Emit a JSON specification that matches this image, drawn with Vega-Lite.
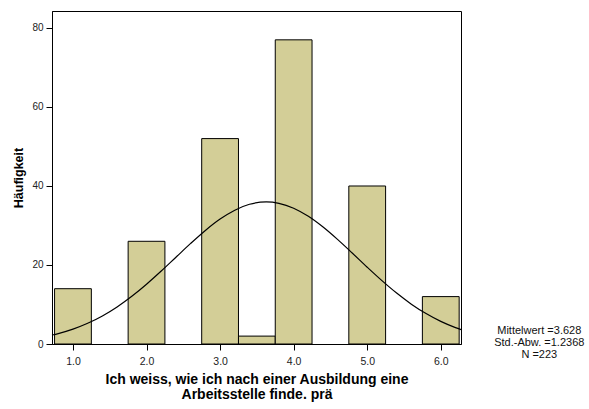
{
  "$schema": "https://vega.github.io/schema/vega-lite/v6.json",
  "autosize": "none",
  "width": 409,
  "height": 333,
  "padding": {"left": 52, "top": 11, "right": 128, "bottom": 65},
  "background": "white",
  "config": {
    "font": "Liberation Sans",
    "view": {"stroke": "#000000", "strokeWidth": 1},
    "axis": {
      "labelFont": "Liberation Sans",
      "titleFont": "Liberation Sans",
      "labelColor": "#222222",
      "titleColor": "#000000",
      "domainColor": "#000000",
      "tickColor": "#000000",
      "grid": false,
      "tickSize": 6,
      "labelFontSize": 10,
      "labelFlush": false,
      "labelOverlap": false,
      "titleFontWeight": "bold"
    }
  },
  "datasets": {
    "bins": [
      {"start": 0.75, "end": 1.25, "count": 14},
      {"start": 1.75, "end": 2.25, "count": 26},
      {"start": 2.75, "end": 3.25, "count": 52},
      {"start": 3.25, "end": 3.75, "count": 2},
      {"start": 3.75, "end": 4.25, "count": 77},
      {"start": 4.75, "end": 5.25, "count": 40},
      {"start": 5.75, "end": 6.25, "count": 12}
    ],
    "curve": [
      {"x": 0.715, "y": 2.27}, {"x": 0.8, "y": 2.64}, {"x": 1.0, "y": 3.76}, {"x": 1.2, "y": 5.24},
      {"x": 1.4, "y": 7.10}, {"x": 1.6, "y": 9.38}, {"x": 1.8, "y": 12.07}, {"x": 2.0, "y": 15.13},
      {"x": 2.2, "y": 18.47}, {"x": 2.4, "y": 21.97}, {"x": 2.6, "y": 25.46}, {"x": 2.8, "y": 28.75},
      {"x": 3.0, "y": 31.62}, {"x": 3.2, "y": 33.88}, {"x": 3.4, "y": 35.37}, {"x": 3.628, "y": 35.97},
      {"x": 3.8, "y": 35.62}, {"x": 4.0, "y": 34.38}, {"x": 4.2, "y": 32.32}, {"x": 4.4, "y": 29.60},
      {"x": 4.6, "y": 26.41}, {"x": 4.8, "y": 22.96}, {"x": 5.0, "y": 19.44}, {"x": 5.2, "y": 16.04},
      {"x": 5.4, "y": 12.89}, {"x": 5.6, "y": 10.09}, {"x": 5.8, "y": 7.70}, {"x": 6.0, "y": 5.72},
      {"x": 6.2, "y": 4.14}, {"x": 6.275, "y": 3.64}
    ],
    "stats": [
      {"label": "Mittelwert =3.628", "tx": 7.339, "ty": 2.41},
      {"label": "Std.-Abw. =1.2368", "tx": 7.339, "ty": -0.63},
      {"label": "N =223", "tx": 7.339, "ty": -3.67}
    ]
  },
  "layer": [
    {
      "data": {"name": "bins"},
      "mark": {"type": "bar", "fill": "#D3CE97", "stroke": "#000000", "strokeWidth": 1},
      "encoding": {
        "x": {
          "field": "start", "type": "quantitative",
          "scale": {"domain": [0.715, 6.275], "nice": false, "zero": false},
          "axis": {
            "values": [1, 2, 3, 4, 5, 6], "format": ".1f",
            "title": ["Ich weiss, wie ich nach einer Ausbildung eine", "Arbeitsstelle finde. prä"],
            "titleFontSize": 14, "titlePadding": 6, "titleLineHeight": 15,
            "labelPadding": 6, "labelFontSize": 10.5
          }
        },
        "x2": {"field": "end"},
        "y": {
          "field": "count", "type": "quantitative",
          "scale": {"domain": [0, 84.3], "nice": false},
          "axis": {
            "values": [0, 20, 40, 60, 80],
            "title": "Häufigkeit", "titleFontSize": 12.5, "titlePadding": 6,
            "labelPadding": 3
          }
        },
        "y2": {"datum": 0}
      }
    },
    {
      "data": {"name": "curve"},
      "mark": {"type": "line", "color": "#000000", "strokeWidth": 1.2, "interpolate": "monotone"},
      "encoding": {
        "x": {"field": "x", "type": "quantitative"},
        "y": {"field": "y", "type": "quantitative"}
      }
    },
    {
      "data": {"name": "stats"},
      "mark": {"type": "text", "fontSize": 11, "color": "#111111", "align": "center", "baseline": "alphabetic", "clip": false},
      "encoding": {
        "x": {"field": "tx", "type": "quantitative"},
        "y": {"field": "ty", "type": "quantitative"},
        "text": {"field": "label"}
      }
    }
  ]
}
